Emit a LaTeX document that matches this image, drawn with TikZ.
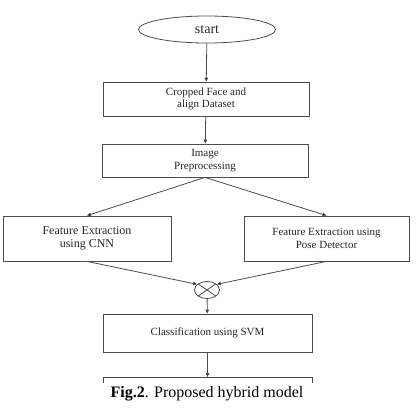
\documentclass[tikz,border=0pt]{standalone}
\usepackage{fontspec}
\setmainfont{Liberation Serif}
\usetikzlibrary{shapes.geometric,arrows.meta,calc}
\begin{document}
\begin{tikzpicture}[x=1pt,y=-1pt,
  line/.style={draw=black!70,line width=0.8pt},
  arr/.style={line,-{Triangle[length=4pt,width=3.5pt,fill=black]}},
  boxnode/.style={line,rectangle,inner sep=0pt,align=center,text=black!85,font=\fontsize{11}{12.5}\selectfont},
]
\useasboundingbox (0,0) rectangle (417,407);
\node[line,ellipse,minimum width=137pt,minimum height=27pt,inner sep=0pt,text=black!85,font=\fontsize{14}{16}\selectfont] (start) at (207,29.5) {start};
\node[boxnode,minimum width=206pt,minimum height=34pt] (crop) at (206,99) {Cropped Face and\\align Dataset};
\node[boxnode,minimum width=206pt,minimum height=33pt] (pre) at (205,160.5) {Image\\Preprocessing};
\node[boxnode,minimum width=168pt,minimum height=45pt,font=\fontsize{12}{13.5}\selectfont] (cnn) at (87,238.5) {Feature Extraction\\using CNN};
\node[boxnode,minimum width=165pt,minimum height=45pt] (pose) at (326.5,238.5) {Feature Extraction using\\Pose Detector};
\node[line,ellipse,minimum width=25pt,minimum height=17pt,inner sep=0pt] (mix) at (207,290) {};
\draw[line] ($(mix.center)+(-8.8,-6)$) -- ($(mix.center)+(8.8,6)$);
\draw[line] ($(mix.center)+(-8.8,6)$) -- ($(mix.center)+(8.8,-6)$);
\node[boxnode,minimum width=209pt,minimum height=38pt] (svm) at (207.5,333) {Classification using SVM};
\coordinate (outtop) at (207.5,377);
\draw[line] (103,383) -- (103,377) -- (312,377) -- (312,383);
\node[font=\fontsize{16}{18}\selectfont,anchor=base] (cap) at (207,397) {\textbf{Fig.2}. Proposed hybrid model};
\draw[arr] (start) -- (crop);
\draw[arr] (crop) -- (pre);
\draw[arr] (pre.south) -- (cnn.north);
\draw[arr] (pre.south) -- (pose.north);
\draw[arr] (cnn.south) -- (mix.150);
\draw[arr] (pose.south) -- (mix.30);
\draw[arr] (mix) -- (svm);
\draw[arr] (svm) -- (outtop);
\end{tikzpicture}
\end{document}
